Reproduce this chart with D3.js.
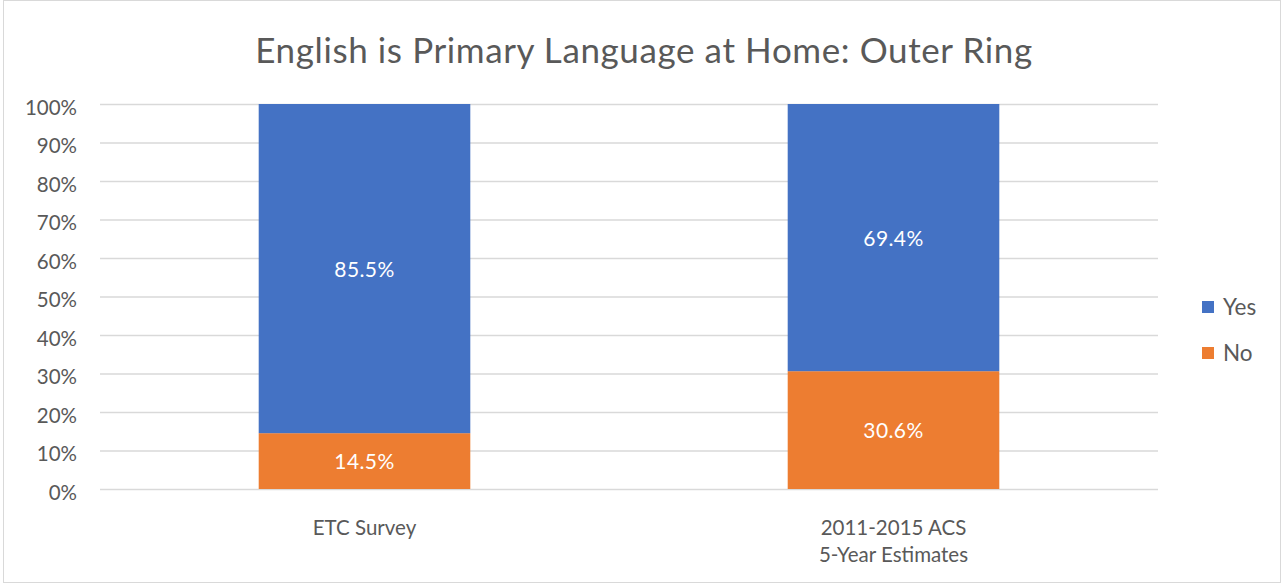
<!DOCTYPE html>
<html>
<head>
<meta charset="utf-8">
<script src="https://cdn.jsdelivr.net/npm/d3@7"></script>
<style>
  html, body { margin: 0; padding: 0; background: #fff; }
  svg { display: block; font-family: Lato, "Open Sans", sans-serif; }
</style>
</head>
<body>
<svg id="chart" width="1284" height="585"></svg>
<script>
// Chart content
const title = "English is Primary Language at Home: Outer Ring";
const categories = ["ETC Survey", "2011-2015 ACS\n5-Year Estimates"];
const seriesNames = ["No", "Yes"];
const noValues = [14.5, 30.6];
const yesValues = [85.5, 69.4];
const yTicks = [0, 10, 20, 30, 40, 50, 60, 70, 80, 90, 100];
const colors = { Yes: "#4472c4", No: "#ed7d31" };

const svg = d3.select("#chart");
const W = 1284, H = 585;
const plot = { left: 100, right: 1158, top: 104, bottom: 489 };
const textColor = "#595959";

// Outer frame
svg.append("rect")
  .attr("x", 3.5).attr("y", 0.5).attr("width", W - 7).attr("height", H - 3)
  .attr("fill", "#fff").attr("stroke", "#d9d9d9");

// Title
svg.append("text")
  .attr("x", 644).attr("y", 63)
  .attr("text-anchor", "middle")
  .attr("font-size", 35)
  .attr("letter-spacing", 0.6)
  .attr("fill", textColor)
  .text(title);

const x = d3.scaleBand()
  .domain(categories)
  .range([plot.left, plot.right])
  .paddingInner(0.6)
  .paddingOuter(0.3);

const y = d3.scaleLinear().domain([0, 100]).range([plot.bottom, plot.top]);

// Gridlines and y axis labels
const yAxis = d3.axisLeft(y)
  .tickValues(yTicks)
  .tickFormat(d => d + "%")
  .tickSize(-(plot.right - plot.left))
  .tickPadding(23);

const gy = svg.append("g")
  .attr("transform", `translate(${plot.left},0)`)
  .call(yAxis);
gy.select(".domain").remove();
gy.selectAll(".tick line").attr("stroke", "#d9d9d9").attr("stroke-width", 1.3);
gy.selectAll(".tick text")
  .attr("fill", textColor)
  .attr("font-size", 20.5)
  .attr("dy", "0.5em")
  .attr("font-family", "Lato, 'Open Sans', sans-serif");

// Stacked data
const rows = categories.map((c, i) => ({ category: c, No: noValues[i], Yes: yesValues[i] }));
const stack = d3.stack().keys(seriesNames)(rows);

const layers = svg.append("g").selectAll("g")
  .data(stack)
  .join("g")
  .attr("fill", d => colors[d.key]);

layers.selectAll("rect")
  .data(d => d)
  .join("rect")
  .attr("x", d => x(d.data.category))
  .attr("width", x.bandwidth())
  .attr("y", d => y(d[1]))
  .attr("height", d => y(d[0]) - y(d[1]));

// Value labels
layers.selectAll("text")
  .data(d => d.map(v => ({ v, key: d.key })))
  .join("text")
  .attr("x", d => x(d.v.data.category) + x.bandwidth() / 2)
  .attr("y", d => (y(d.v[0]) + y(d.v[1])) / 2)
  .attr("dy", "0.38em")
  .attr("text-anchor", "middle")
  .attr("font-size", 21)
  .attr("letter-spacing", 0.4)
  .attr("fill", "#ffffff")
  .text(d => d.v.data[d.key].toFixed(1) + "%");

// Category labels
const cat = svg.append("g");
categories.forEach(c => {
  const lines = c.split("\n");
  const t = cat.append("text")
    .attr("x", x(c) + x.bandwidth() / 2)
    .attr("y", 535)
    .attr("text-anchor", "middle")
    .attr("font-size", 20.5)
    .attr("fill", textColor);
  lines.forEach((ln, i) => {
    t.append("tspan")
      .attr("x", x(c) + x.bandwidth() / 2)
      .attr("dy", i === 0 ? 0 : 27)
      .text(ln);
  });
});

// Legend
const legendItems = ["Yes", "No"];
const lg = svg.append("g").attr("transform", "translate(1202,301)");
legendItems.forEach((k, i) => {
  const g = lg.append("g").attr("transform", `translate(0,${i * 46})`);
  g.append("rect").attr("x", 0).attr("y", 0).attr("width", 12).attr("height", 12).attr("fill", colors[k]);
  g.append("text").attr("x", 21).attr("y", 6).attr("dy", "0.37em")
    .attr("font-size", 22.5).attr("fill", textColor).text(k);
});
</script>
</body>
</html>
